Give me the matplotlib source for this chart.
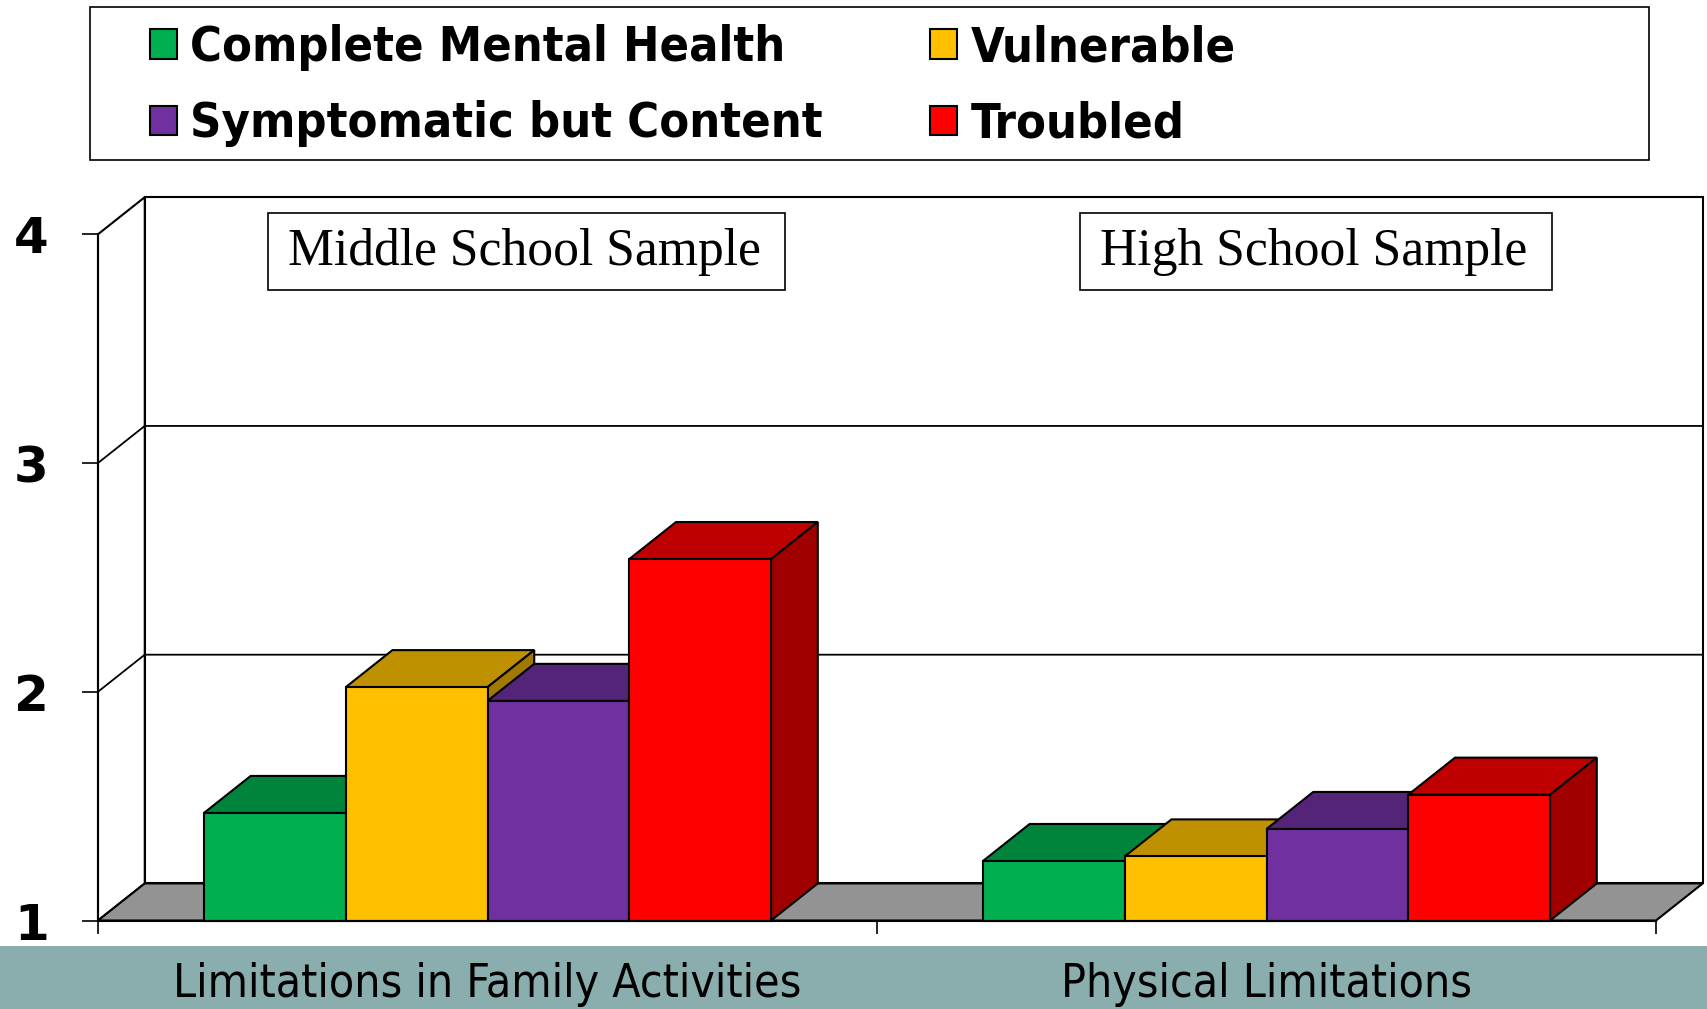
import os
import matplotlib
matplotlib.use("Agg")
import matplotlib.pyplot as plt
import matplotlib.colors as mcolors
import numpy as np
from matplotlib import font_manager as fm
from matplotlib.patches import Patch, Polygon, Rectangle

categories = ["Limitations in Family Activities", "Physical Limitations"]
series = ["Complete Mental Health", "Vulnerable", "Symptomatic but Content", "Troubled"]
complete = [1.47, 1.26]
vulnerable = [2.02, 1.28]
symptomatic = [1.96, 1.40]
troubled = [2.58, 1.55]
panel_labels = ["Middle School Sample", "High School Sample"]
yticks = [1, 2, 3, 4]

colors = ["#00B050", "#FFC000", "#7030A0", "#FF0000"]
data = [complete, vulnerable, symptomatic, troubled]


def find_font(keys, bold):
    # look for a narrow / condensed face, falls back to DejaVu Sans
    for key in keys:
        for f in fm.fontManager.ttflist:
            base = os.path.basename(f.fname)
            if key not in base or "Italic" in base or "Oblique" in base:
                continue
            if ("Bold" in base) == bold:
                return fm.FontProperties(fname=f.fname)
    return fm.FontProperties(family="DejaVu Sans", weight="bold" if bold else "normal")


keys = ["LiberationSansNarrow", "DejaVuSansCondensed"]
fp_reg = find_font(keys, False)
fp_bold = find_font(keys, True)
fp_serif = fm.FontProperties(family=["Liberation Serif", "DejaVu Serif"])

W, H = 1708, 1009
fig = plt.figure(figsize=(W / 100, H / 100), dpi=100)
ax = fig.add_axes([0, 0, 1, 1])
renderer = fig.canvas.get_renderer()


def text_width(s, fp, size):
    t = fig.text(0, 0, s, fontproperties=fp, fontsize=size)
    w = t.get_window_extent(renderer).width
    t.remove()
    return w


def fit_size(s, fp, target_px):
    return 20 * target_px / text_width(s, fp, 20)


# front plane geometry in pixels
x0_px, x2_px = 98, 1656
y1_px, unit_px = 920.5, 228.75
xu = (x2_px - x0_px) / 2
ax.set_xlim(-x0_px / xu, 2 + (W - x2_px) / xu)
ax.set_ylim(1 - (H - y1_px) / unit_px, 1 + y1_px / unit_px)

dx, dy = 0.060, 0.162
lw = 1.5

# walls and floor
ax.add_patch(Rectangle((dx, 1 + dy), 2, 3, fc="white", ec="black", lw=lw, zorder=0.5))
ax.add_patch(Polygon([(0, 1), (dx, 1 + dy), (dx, 4 + dy), (0, 4)],
                     fc="white", ec="black", lw=lw, zorder=0.6))
for y in yticks[1:-1]:
    ax.plot([0, dx, 2 + dx], [y, y + dy, y + dy], color="black", lw=1.3, zorder=0.8)
ax.add_patch(Polygon([(0, 1), (2, 1), (2 + dx, 1 + dy), (dx, 1 + dy)],
                     fc="#939393", ec="black", lw=lw, zorder=1))

# bars
bw = 0.182
for j, (vals, c) in enumerate(zip(data, colors)):
    rgb = np.array(mcolors.to_rgb(c))
    top_c = rgb * 0.75
    side_c = rgb * 0.63
    xs = np.arange(len(categories)) + 0.5 + (j - 2) * bw
    z = 3 + j * 0.1
    ax.bar(xs, np.array(vals) - 1, bottom=1, width=bw, align="edge",
           color=c, ec="black", lw=lw, zorder=z + 0.05)
    for x, v in zip(xs, vals):
        ax.add_patch(Polygon([(x, v), (x + bw, v), (x + bw + dx, v + dy), (x + dx, v + dy)],
                             fc=top_c, ec="black", lw=lw, zorder=z))
        ax.add_patch(Polygon([(x + bw, 1), (x + bw + dx, 1 + dy), (x + bw + dx, v + dy), (x + bw, v)],
                             fc=side_c, ec="black", lw=lw, zorder=z))

# panel labels with their boxes
panel_size = fit_size(panel_labels[0], fp_serif, 473)
box_x = [(0.2182, 0.8825), (1.260, 1.866)]
box_y = (3.757, 4.095)
text_x = [0.547, 1.561]
for lab, (bx0, bx1), tx in zip(panel_labels, box_x, text_x):
    ax.add_patch(Rectangle((bx0, box_y[0]), bx1 - bx0, box_y[1] - box_y[0],
                           fc="white", ec="black", lw=1.2, zorder=6))
    ax.text(tx, 3.922, lab, ha="center", va="center", fontproperties=fp_serif,
            fontsize=panel_size, zorder=7)

# axes
for s in ["top", "right"]:
    ax.spines[s].set_visible(False)
ax.spines["left"].set_position(("data", 0))
ax.spines["left"].set_bounds(1, 4)
ax.spines["bottom"].set_position(("data", 1))
ax.spines["bottom"].set_bounds(0, 2)
for s in ["left", "bottom"]:
    ax.spines[s].set_linewidth(lw)
    ax.spines[s].set_zorder(5)

ax.set_yticks(yticks)
ax.set_yticklabels([str(t) for t in yticks], fontsize=36, fontweight="bold",
                   family="DejaVu Sans")
ax.tick_params(axis="y", length=11.5, width=1.2, pad=24)
ax.set_xticks([0, 1, 2])
ax.set_xticklabels([])
ax.tick_params(axis="x", which="major", length=9, width=1.2)

cat_size = fit_size(categories[0], fp_reg, 630)
for i, cat in enumerate(categories):
    ax.text(i + 0.5, 0.722, cat, ha="center", va="center", fontproperties=fp_reg,
            fontsize=cat_size, zorder=6)

# teal band
ax.add_patch(Rectangle((0, 0), 1, 0.0629, transform=ax.transAxes,
                       fc="#8aadad", ec="none", zorder=0.2))

# legend
leg_size = fit_size(series[0], fp_bold, 596)
fs_px = leg_size * 100 / 72
w_symp = text_width(series[2], fp_bold, leg_size)
col_gap = 929 - (188.6 + w_symp)
order = [0, 2, 1, 3]
handles = [Patch(fc=colors[k], ec="black", lw=lw) for k in order]
labels = [series[k] for k in order]
leg_fp = fp_bold.copy()
leg_fp.set_size(leg_size)
ax.legend(handles, labels, ncol=2, loc="upper left",
          bbox_to_anchor=(150 / W, 1 - (49 - 0.51 * fs_px) / H),
          bbox_transform=fig.transFigure, frameon=False, prop=leg_fp,
          handlelength=27 / fs_px, handleheight=27 / fs_px,
          handletextpad=13 / fs_px, columnspacing=col_gap / fs_px,
          labelspacing=(78.5 - 1.02 * fs_px) / fs_px, borderpad=0, borderaxespad=0)
ax.add_patch(Rectangle((0.0529, 0.8413), 0.9126, 0.1522, transform=ax.transAxes,
                       fill=False, ec="black", lw=1.2, zorder=5))

fig.savefig("out.png", dpi=100, facecolor="white")
